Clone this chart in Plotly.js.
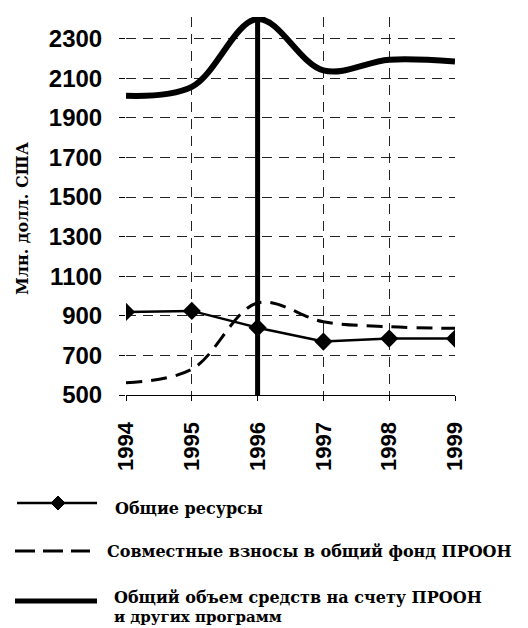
<!DOCTYPE html>
<html><head><meta charset="utf-8">
<script src="https://cdn.plot.ly/plotly-3.0.1.min.js"></script>
<style>html,body{margin:0;padding:0;background:#fff}</style>
</head><body><div id="chart" style="width:528px;height:628px"></div>
<script>
// ---- data ----
const years = [1994, 1995, 1996, 1997, 1998, 1999];
const yearLabels = ['1994', '1995', '1996', '1997', '1998', '1999'];
const totalResources = [920, 925, 840, 770, 785, 785];       // Общие ресурсы
const costSharing = [562, 630, 965, 870, 845, 837];          // Совместные взносы
const totalFunds = [2012, 2057, 2400, 2140, 2194, 2185];     // Общий объем средств
const highlightYear = 1996;
const yTicks = [500, 700, 900, 1100, 1300, 1500, 1700, 1900, 2100, 2300];
const seriesNames = ['Общие ресурсы', 'Совместные взносы в общий фонд ПРООН', 'Общий объем средств на счету ПРООН', 'и других программ'];
const yTitle = 'Млн. долл. США';

// ---- layout geometry ----
const W = 528, H = 628, L = 126, R = 73, T = 17, B = 233;
const pw = W - L - R, ph = H - T - B;
const px = x => (x - L) / pw;
const py = y => (H - B - y) / ph;
const serif = {family: 'DejaVu Serif', size: 16, color: '#000', weight: 'bold'};
const serifSmall = {family: 'DejaVu Serif', size: 15, color: '#000', weight: 'bold'};

const traces = [
  {x: years, y: totalFunds, mode: 'lines', line: {color: '#000', width: 6, shape: 'spline'}, name: seriesNames[2]},
  {x: years, y: costSharing, mode: 'lines', line: {color: '#000', width: 3, dash: '16px,9px', shape: 'spline'}, name: seriesNames[1]},
  {x: years, y: totalResources, mode: 'lines+markers', line: {color: '#000', width: 2.5}, marker: {symbol: 'diamond', size: 14, color: '#000'}, name: seriesNames[0]}
];

function diamondPath(cx, cy, r) {
  return 'M' + px(cx - r) + ',' + py(cy) + ' L' + px(cx) + ',' + py(cy - r) + ' L' + px(cx + r) + ',' + py(cy) + ' L' + px(cx) + ',' + py(cy + r) + ' Z';
}

const shapes = [
  {type: 'line', xref: 'x', yref: 'y', x0: highlightYear, x1: highlightYear, y0: 500, y1: 2410, line: {color: '#000', width: 5}, layer: 'above'},
  // legend samples
  {type: 'line', xref: 'paper', yref: 'paper', x0: px(17), x1: px(97), y0: py(503), y1: py(503), line: {color: '#000', width: 2.5}},
  {type: 'path', xref: 'paper', yref: 'paper', path: diamondPath(58, 503, 7), fillcolor: '#000', line: {color: '#000', width: 1}},
  {type: 'line', xref: 'paper', yref: 'paper', x0: px(15), x1: px(90), y0: py(551), y1: py(551), line: {color: '#000', width: 3, dash: '20px,8px'}},
  {type: 'line', xref: 'paper', yref: 'paper', x0: px(15), x1: px(97), y0: py(601), y1: py(601), line: {color: '#000', width: 5}}
];

const annotations = [
  {text: seriesNames[0], x: px(113), y: py(508), xref: 'paper', yref: 'paper', xanchor: 'left', yanchor: 'middle', showarrow: false, font: serif},
  {text: seriesNames[1], x: px(105), y: py(551), xref: 'paper', yref: 'paper', xanchor: 'left', yanchor: 'middle', showarrow: false, font: serif},
  {text: seriesNames[2], x: px(112), y: py(597), xref: 'paper', yref: 'paper', xanchor: 'left', yanchor: 'middle', showarrow: false, font: serif},
  {text: seriesNames[3], x: px(112), y: py(617), xref: 'paper', yref: 'paper', xanchor: 'left', yanchor: 'middle', showarrow: false, font: serifSmall},
  {text: yTitle, x: px(22), y: py(219), xref: 'paper', yref: 'paper', xanchor: 'center', yanchor: 'middle', textangle: -90, showarrow: false, font: serif}
];

const layout = {
  width: W, height: H,
  margin: {l: L, r: R, t: T, b: B, pad: 0},
  paper_bgcolor: '#fff', plot_bgcolor: '#fff',
  showlegend: false,
  font: {family: 'Liberation Sans', color: '#000'},
  xaxis: {
    range: [1994, 1999], tickvals: years, ticktext: yearLabels, tickangle: -90,
    tickfont: {family: 'Liberation Sans', size: 22, weight: 'bold', color: '#000'},
    showgrid: true, gridcolor: '#222', gridwidth: 1, griddash: '10px,7px',
    showline: true, linecolor: '#000', linewidth: 1.2,
    ticks: 'outside', ticklen: 5, tickcolor: '#000', ticklabelstandoff: 12,
    zeroline: false, fixedrange: true
  },
  yaxis: {
    range: [500, 2410], tickvals: yTicks, ticktext: yTicks.map(String),
    tickfont: {family: 'Liberation Sans', size: 24, weight: 'bold', color: '#000'},
    showgrid: true, gridcolor: '#222', gridwidth: 1, griddash: '10px,7px',
    showline: false,
    ticks: 'outside', ticklen: 6, tickcolor: '#000', ticklabelstandoff: 12,
    zeroline: false, fixedrange: true
  },
  shapes: shapes,
  annotations: annotations
};

Plotly.newPlot('chart', traces, layout, {displayModeBar: false, staticPlot: true});
</script>
</body></html>
